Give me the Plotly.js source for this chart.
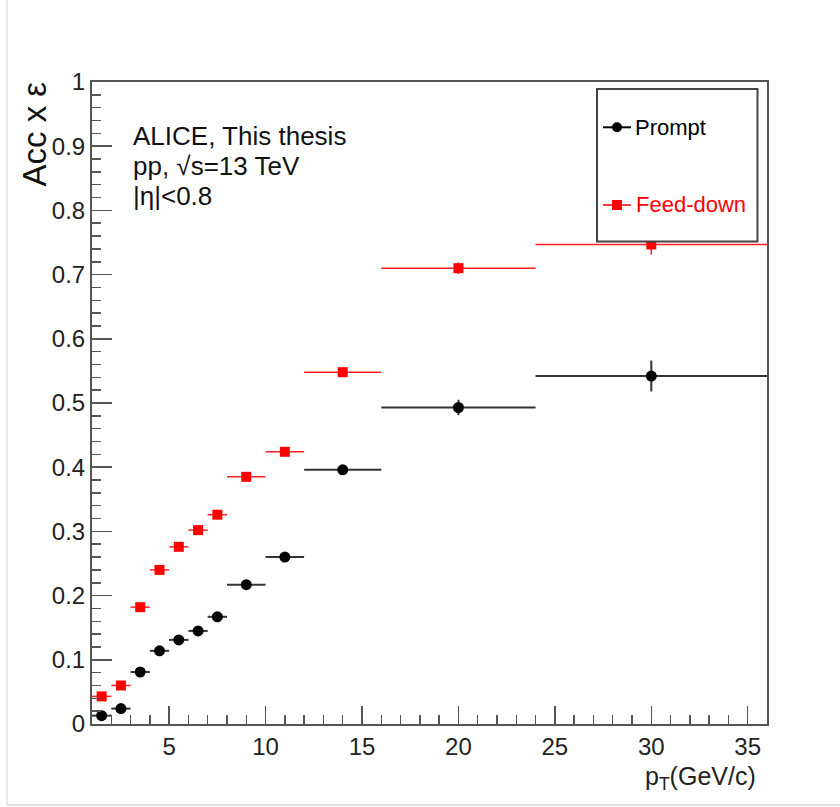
<!DOCTYPE html>
<html>
<head>
<meta charset="utf-8">
<script src="https://cdn.plot.ly/plotly-3.0.1.min.js"></script>
<style>html,body{margin:0;padding:0;background:#fff;}#chart{width:840px;height:807px;}</style>
</head>
<body>
<div id="chart"></div>
<script>
// pT bin centres and half-widths (GeV/c)
const ptCenters   = [1.5, 2.5, 3.5, 4.5, 5.5, 6.5, 7.5, 9, 11, 14, 20, 30];
const ptHalfWidth = [0.5, 0.5, 0.5, 0.5, 0.5, 0.5, 0.5, 1, 1, 2, 4, 6];
// Acc x eff, prompt
const promptVals = [0.013, 0.024, 0.081, 0.114, 0.131, 0.145, 0.167, 0.217, 0.260, 0.396, 0.493, 0.542];
const promptErrs = [0.002, 0.003, 0.004, 0.004, 0.004, 0.005, 0.005, 0.005, 0.006, 0.007, 0.012, 0.024];
// Acc x eff, feed-down
const feedVals = [0.043, 0.060, 0.182, 0.240, 0.276, 0.302, 0.326, 0.385, 0.424, 0.548, 0.710, 0.747];
const feedErrs = [0.003, 0.004, 0.005, 0.005, 0.005, 0.005, 0.005, 0.006, 0.006, 0.007, 0.009, 0.016];

const xTickVals = [5, 10, 15, 20, 25, 30, 35];
const yTickVals = [0, 0.1, 0.2, 0.3, 0.4, 0.5, 0.6, 0.7, 0.8, 0.9, 1];
const yTickText = ['0', '0.1', '0.2', '0.3', '0.4', '0.5', '0.6', '0.7', '0.8', '0.9', '1'];
const infoLines = ['ALICE, This thesis', 'pp, \u221As=13 TeV', '|\u03B7|<0.8'];

const FONT = 'Liberation Sans, Arial, Helvetica, sans-serif';

const traces = [
  {
    x: ptCenters, y: promptVals, type: 'scatter', mode: 'markers', name: 'Prompt',
    marker: {symbol: 'circle', size: 11, color: '#000'},
    error_x: {type: 'data', array: ptHalfWidth, visible: true, width: 0, thickness: 2, color: '#333'},
    error_y: {type: 'data', array: promptErrs, visible: true, width: 0, thickness: 2, color: '#333'},
    showlegend: false, cliponaxis: true
  },
  {
    x: ptCenters, y: feedVals, type: 'scatter', mode: 'markers', name: 'Feed-down',
    marker: {symbol: 'square', size: 10, color: '#ff0000'},
    error_x: {type: 'data', array: ptHalfWidth, visible: true, width: 0, thickness: 1.5, color: '#ff2020'},
    error_y: {type: 'data', array: feedErrs, visible: true, width: 0, thickness: 1.5, color: '#ff2020'},
    showlegend: false, cliponaxis: true
  }
];

// pixel helpers for paper coordinates (plot area: x 92..767, y 82..724)
const L = 92, R = 767, T = 82, B = 724;
const px = v => (v - L) / (R - L);
const py = v => (B - v) / (B - T);

const shapes = [
  // faint outer frame
  {type: 'line', xref: 'paper', yref: 'paper', x0: px(7), x1: px(7), y0: py(0), y1: py(805), line: {color: '#e2e2e2', width: 1.5}},
  {type: 'line', xref: 'paper', yref: 'paper', x0: px(7), x1: px(840), y0: py(805), y1: py(805), line: {color: '#d8d8d8', width: 1.5}},
  // legend box
  {type: 'rect', xref: 'paper', yref: 'paper', layer: 'above', x0: px(597), x1: px(757.5), y0: py(241.5), y1: py(89),
   line: {color: '#444', width: 2}, fillcolor: '#fff'},
  // legend symbols
  {type: 'line', xref: 'paper', yref: 'paper', layer: 'above', x0: px(603), x1: px(631), y0: py(127.3), y1: py(127.3), line: {color: '#000', width: 2}},
  {type: 'circle', xref: 'paper', yref: 'paper', layer: 'above', x0: px(612), x1: px(622), y0: py(132.3), y1: py(122.3), line: {color: '#000', width: 0}, fillcolor: '#000'},
  {type: 'line', xref: 'paper', yref: 'paper', layer: 'above', x0: px(603), x1: px(631), y0: py(205), y1: py(205), line: {color: '#ff0000', width: 1.5}},
  {type: 'rect', xref: 'paper', yref: 'paper', layer: 'above', x0: px(612), x1: px(622), y0: py(210), y1: py(200), line: {color: '#ff0000', width: 0}, fillcolor: '#ff0000'}
];

const infoY = [136, 166, 196];
const annotations = [
  {xref: 'paper', yref: 'paper', x: px(633), y: py(127.3), xanchor: 'left', yanchor: 'middle', showarrow: false,
   text: 'Prompt', font: {family: FONT, size: 22, color: '#000'}},
  {xref: 'paper', yref: 'paper', x: px(634), y: py(205), xanchor: 'left', yanchor: 'middle', showarrow: false,
   text: 'Feed-down', font: {family: FONT, size: 22, color: '#ff0000'}},
  {xref: 'paper', yref: 'paper', x: px(758), y: py(760), xanchor: 'right', yanchor: 'top', showarrow: false,
   text: 'p<sub>T</sub>(GeV/c)', font: {family: FONT, size: 25, color: '#222'}},
  {xref: 'paper', yref: 'paper', x: px(34), y: py(80), xanchor: 'center', yanchor: 'top', textangle: -90, showarrow: false,
   text: 'Acc x \u03B5', font: {family: FONT, size: 33, color: '#111'}}
].concat(infoLines.map((t, i) => ({
  xref: 'paper', yref: 'paper', x: px(131), y: py(infoY[i]), xanchor: 'left', yanchor: 'middle', align: 'left', showarrow: false,
  text: t, font: {family: FONT, size: 26, color: '#111'}
})));

const layout = {
  width: 840, height: 807,
  margin: {l: L, r: 840 - R, t: T, b: 807 - B, pad: 0},
  paper_bgcolor: '#fff', plot_bgcolor: '#fff',
  showlegend: false,
  font: {family: FONT, color: '#222', size: 24},
  xaxis: {
    range: [1, 36], showgrid: false, zeroline: false,
    showline: true, mirror: true, linecolor: '#555', linewidth: 2,
    ticks: 'inside', ticklen: 18, tickwidth: 1.5, tickcolor: '#555',
    tickmode: 'array', tickvals: xTickVals, ticktext: xTickVals.map(String),
    tickfont: {family: FONT, size: 24, color: '#222'},
    minor: {ticks: 'inside', ticklen: 9, tickwidth: 1.5, tickcolor: '#555', dtick: 1, tick0: 0, showgrid: false}
  },
  yaxis: {
    range: [0, 1], showgrid: false, zeroline: false,
    showline: true, mirror: true, linecolor: '#555', linewidth: 2,
    ticks: 'inside', ticklen: 20, tickwidth: 1.5, tickcolor: '#555',
    tickmode: 'array', tickvals: yTickVals, ticktext: yTickText,
    tickfont: {family: FONT, size: 24, color: '#222'},
    minor: {ticks: 'inside', ticklen: 9, tickwidth: 1.5, tickcolor: '#555', dtick: 0.02, tick0: 0, showgrid: false}
  },
  shapes: shapes,
  annotations: annotations
};

Plotly.newPlot('chart', traces, layout, {displayModeBar: false, staticPlot: true});
</script>
</body>
</html>
